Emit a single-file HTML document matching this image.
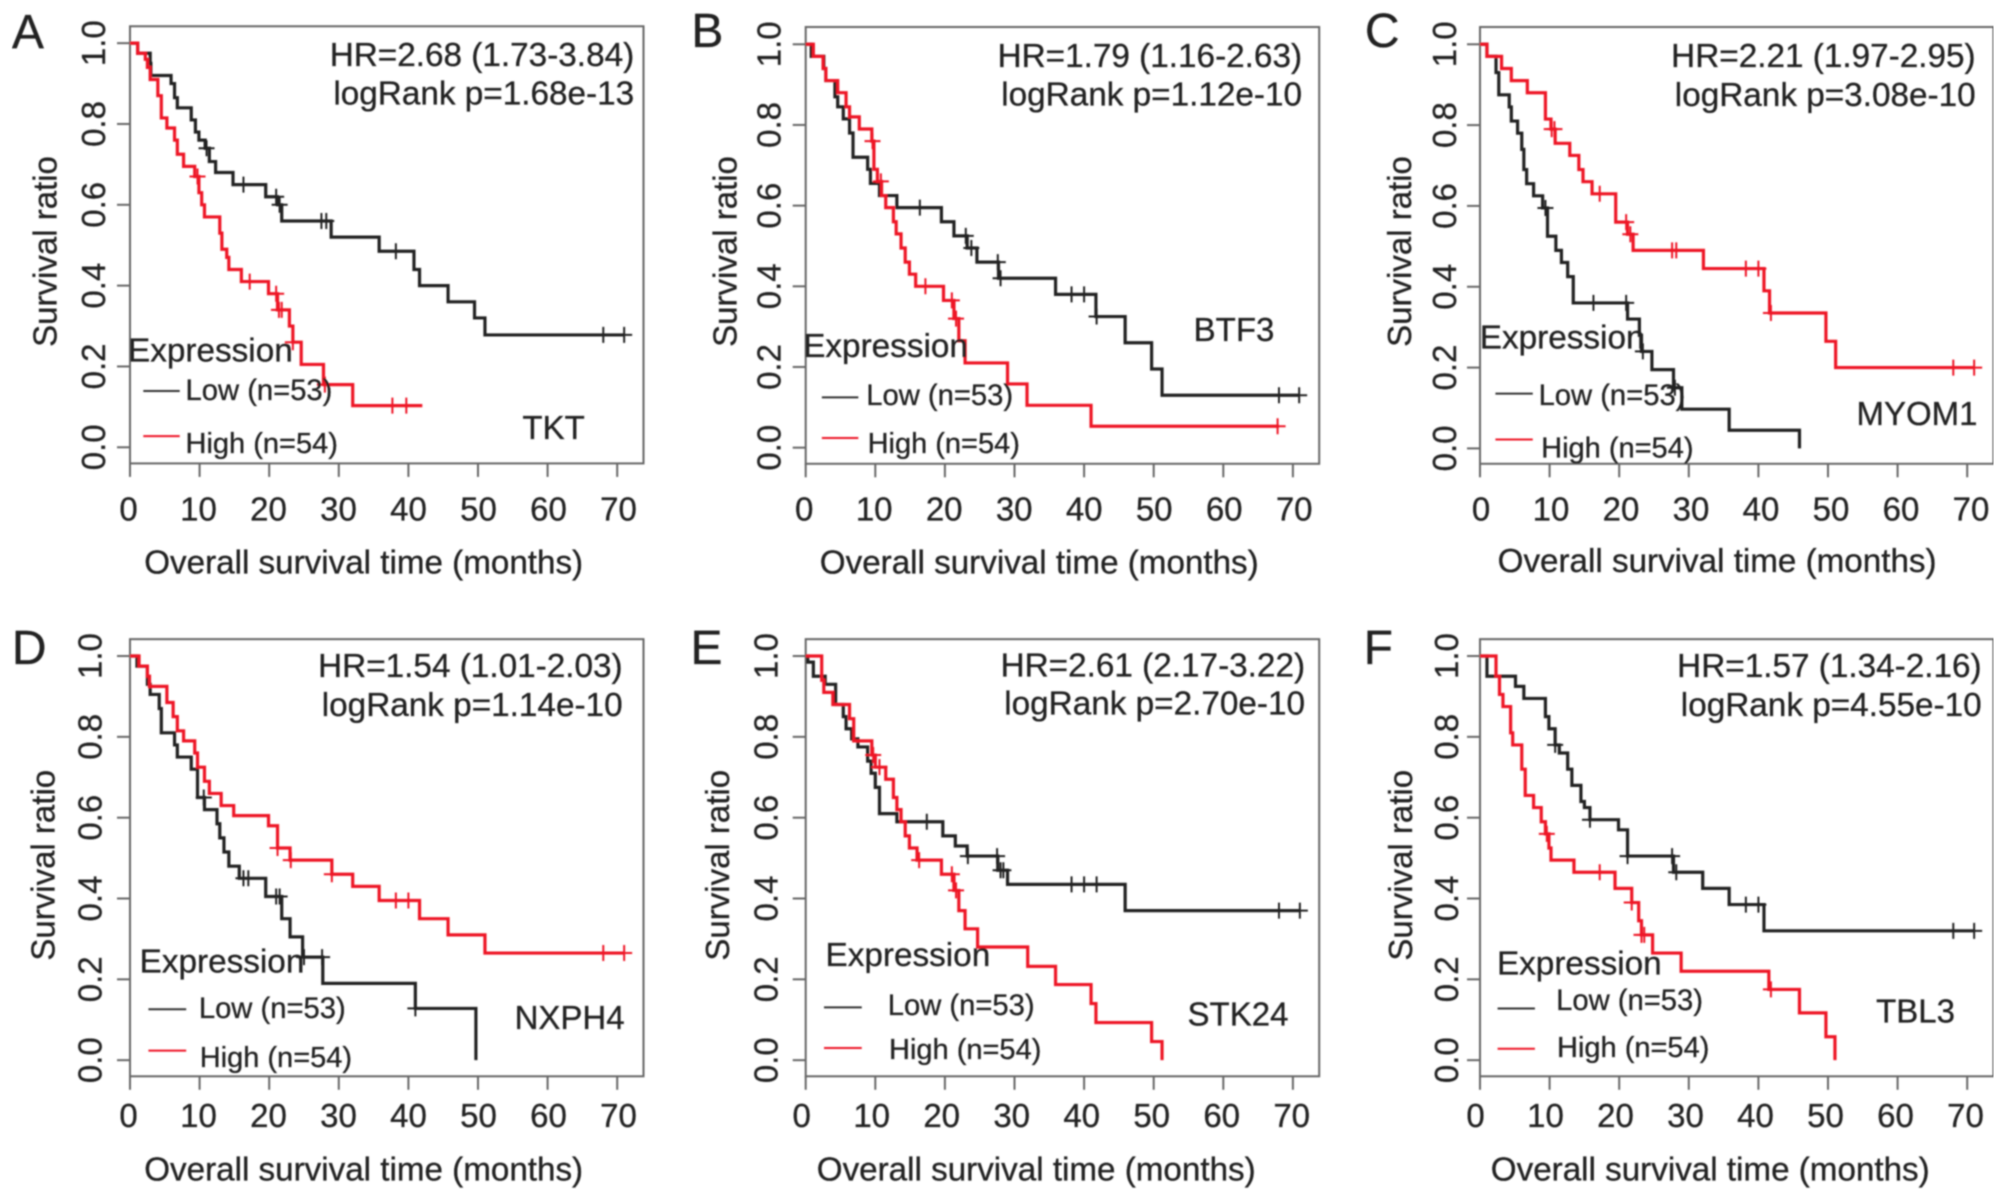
<!DOCTYPE html>
<html lang="en">
<head>
<meta charset="utf-8">
<title>Kaplan-Meier survival panels</title>
<style>
html,body{margin:0;padding:0;background:#fff;width:2008px;height:1200px;overflow:hidden}
svg{display:block}
text{font-family:"Liberation Sans",Arial,sans-serif;fill:#222;stroke:#222;stroke-width:0.3px}
</style>
</head>
<body>
<svg id="figure" xmlns="http://www.w3.org/2000/svg" width="2008" height="1200" viewBox="0 0 2008 1200">
<defs><filter id="soft" x="0" y="0" width="100%" height="100%" filterUnits="objectBoundingBox"><feGaussianBlur stdDeviation="0.75"/></filter></defs>
<rect x="0" y="0" width="2008" height="1200" fill="#fff"/>
<g id="root" filter="url(#soft)"></g>
</svg>
<script>
// Shared axis ticks
const xTicks = [0, 10, 20, 30, 40, 50, 60, 70];
const yTicks = [0, 0.2, 0.4, 0.6, 0.8, 1.0];
const yTickLabels = ["0.0", "0.2", "0.4", "0.6", "0.8", "1.0"];
const xAxisTitle = "Overall survival time (months)";
const yAxisTitle = "Survival ratio";
const lowLabel = "Low (n=53)";
const highLabel = "High (n=54)";

// Panel A - TKT
const aLowT = [1.1,2.9,3.0,5.9,6.4,6.8,8.8,9.4,9.9,10.8,11.4,12.3,14.8,19.5,21.2,21.8,28.9,35.8,40.8,41.6,45.7,49.5,51,71];
const aLowS = [.975,.95,.92,.90,.865,.84,.81,.78,.76,.74,.707,.68,.65,.62,.60,.56,.52,.485,.44,.40,.36,.32,.278,.278];
const aLowCensor = [11,16.3,21,21.5,27.5,28.2,38.2,68,71];
const aHighT = [1.1,2.2,2.5,2.9,4,4.5,5.3,6.4,6.8,7.7,9.3,9.9,10.3,10.7,12.9,13.2,13.9,14.2,16,19.9,21.2,22.9,23.4,24.6,27.8,32,42];
const aHighS = [.975,.96,.94,.91,.87,.815,.79,.76,.725,.695,.67,.63,.60,.57,.53,.49,.47,.44,.41,.38,.34,.30,.26,.205,.155,.103,.103];
const aHighCensor = [9.7,17.2,21,21.4,21.8,23.4,28,37.7,39.7];

// Panel B - BTF3
const bLowT = [.8,2.6,2.9,4.2,4.6,5.4,6.3,6.8,8.9,9.3,10.6,13.1,19.5,21.3,23.2,24.6,27.7,35.9,41.7,45.9,49.7,51.2,71];
const bLowS = [.97,.94,.91,.87,.845,.815,.78,.72,.69,.655,.625,.595,.56,.525,.495,.46,.42,.38,.325,.26,.195,.13,.13];
const bLowCensor = [16.4,23,23.8,27.6,28,38.2,40,41.8,68,70.9];
const bHighT = [1.1,2.5,2.9,4.6,5.8,6.3,7.7,9.5,9.8,10.3,10.9,11.5,12.6,13,13.7,14.3,14.9,15.8,19.8,21.3,22,22.9,29,31.8,41,68];
const bHighS = [.97,.94,.91,.88,.845,.82,.79,.76,.69,.66,.625,.595,.56,.53,.495,.46,.43,.40,.365,.32,.265,.21,.158,.105,.053,.053];
const bHighCensor = [9.6,10.8,17.2,21,21.6,67.8];

// Panel C - MYOM1
const cLowT = [1,2.3,2.7,4.2,4.5,5.4,6,6.3,6.7,7.7,9,9.7,10.9,11.7,12.6,13.4,21.2,22.9,23.2,24.7,27.8,29,35.8,45.9];
const cLowS = [.97,.93,.875,.845,.81,.78,.74,.69,.655,.625,.595,.525,.49,.46,.425,.36,.32,.28,.24,.195,.15,.097,.045,0];
const cLowCensor = [9.4,16.3,21,23.4,28];
const cHighT = [1,3.1,4.5,6.8,9.4,10.2,10.8,12.9,14.2,14.8,16.1,19.5,21.2,22,32.1,40.8,41.6,49.7,51.1,71];
const cHighS = [.97,.94,.91,.88,.815,.79,.755,.725,.69,.66,.63,.56,.53,.49,.445,.39,.335,.265,.2,.2];
const cHighCensor = [10.3,10.7,17.2,21,21.6,27.6,28.2,38.2,40,41.8,68,71];

// Panel D - NXPH4
const dLowT = [1,2.5,2.9,4.2,4.5,6.4,6.8,8.8,9.7,10.7,12.5,12.9,13.5,14.2,15.7,19.5,21.8,23,24.8,27.7,41,49.7];
const dLowS = [.975,.93,.905,.87,.81,.78,.75,.72,.65,.62,.585,.55,.515,.48,.45,.405,.35,.305,.255,.19,.128,0];
const dLowCensor = [10.6,16.3,17,21,21.5,25,27.6,41];
const dHighT = [1.3,2.5,2.8,5.3,6.2,6.8,7.7,9.3,9.7,10.7,11.4,13.1,14.9,19.9,21.2,23,29,32,35.8,41.6,45.7,51,71];
const dHighS = [.975,.95,.925,.885,.85,.815,.79,.76,.725,.69,.66,.63,.605,.58,.525,.495,.46,.43,.395,.35,.31,.265,.265];
const dHighCensor = [21.2,23.1,29,38.2,40,68,71];

// Panel E - STK24
const eLowT = [.3,1.1,2.8,4.3,5.4,5.8,6.6,7.5,8.9,9.4,10,10.6,13.1,19.7,21.5,23.2,27.6,29,45.9,71];
const eLowS = [.985,.95,.93,.88,.85,.82,.795,.775,.74,.71,.675,.61,.59,.555,.53,.505,.47,.435,.37,.37];
const eLowCensor = [17.4,23.3,27.5,28,28.4,38.2,40,41.8,68,71];
const eHighT = [2.3,2.6,3.9,6.3,6.9,9.5,10,11.5,12.6,13.1,13.7,14.3,14.9,16,19.5,21.3,22,22.9,24.7,31.9,35.9,41,41.7,49.7,51.2];
const eHighS = [.94,.91,.88,.845,.79,.755,.725,.695,.65,.62,.59,.555,.525,.495,.46,.42,.37,.325,.28,.232,.187,.14,.093,.046,0];
const eHighCensor = [9.7,10.6,16.3,21,21.6];

// Panel F - TBL3
const fLowT = [1,5.1,6.3,9.4,9.9,10.8,11.4,12.6,13.2,14.5,15,15.8,19.9,21.2,27.8,32,35.8,40.8,71];
const fLowS = [.95,.925,.895,.85,.82,.78,.76,.72,.68,.64,.625,.595,.57,.505,.465,.425,.385,.32,.32];
const fLowCensor = [10.8,15.8,21.2,27.6,28.2,38.2,40,68,71];
const fHighT = [2.3,2.8,3.3,4.4,4.7,6,6.5,7.7,8.8,9.4,9.9,10.2,13.5,19.4,21.8,22.8,23.2,24.8,28.9,41.5,45.9,49.7,51];
const fHighS = [.95,.905,.875,.81,.78,.72,.655,.625,.59,.56,.525,.495,.465,.425,.39,.345,.31,.265,.22,.175,.117,.058,0];
const fHighCensor = [9.6,17.2,21.8,23.2,23.6,41.8];

// Panel text
const panelLetters = ["A", "B", "C", "D", "E", "F"];
const geneNames = ["TKT", "BTF3", "MYOM1", "NXPH4", "STK24", "TBL3"];
const hrTexts = ["HR=2.68 (1.73-3.84)", "HR=1.79 (1.16-2.63)", "HR=2.21 (1.97-2.95)", "HR=1.54 (1.01-2.03)", "HR=2.61 (2.17-3.22)", "HR=1.57 (1.34-2.16)"];
const pTexts = ["logRank p=1.68e-13", "logRank p=1.12e-10", "logRank p=3.08e-10", "logRank p=1.14e-10", "logRank p=2.70e-10", "logRank p=4.55e-10"];
const lowTimes = [aLowT, bLowT, cLowT, dLowT, eLowT, fLowT];
const lowSurv = [aLowS, bLowS, cLowS, dLowS, eLowS, fLowS];
const lowCensors = [aLowCensor, bLowCensor, cLowCensor, dLowCensor, eLowCensor, fLowCensor];
const highTimes = [aHighT, bHighT, cHighT, dHighT, eHighT, fHighT];
const highSurv = [aHighS, bHighS, cHighS, dHighS, eHighS, fHighS];
const highCensors = [aHighCensor, bHighCensor, cHighCensor, dHighCensor, eHighCensor, fHighCensor];

// Layout (separate from data)
const SX = 2.33, SY = 2.655, GY = 2.665, MONTH = 6.96, LABEL_STEP = 7.0, BOX_W = 513.5;
const layouts = [
 {ox:0,oy:0,gy:0,boxLeft:130,top:70,bottom:1235,y1:115,y0:1192,letter:[30,128],hr:[1480,175,278],exp:[303,960],low:[335,420,1038,437,1062],high:[335,420,1158,437,1203],geneCx:553.6,geneY:1165,yTick:245,yTitle:[132,665],xTick:1382,xTickDx:-1.5,xTitle:[852,1522]},
 {ox:670,oy:0,gy:0,boxLeft:805.7,top:72,bottom:1236,y1:118,y0:1193,letter:[52,125],hr:[1475,178,280],exp:[315,948],low:[355,440,1055,462,1075],high:[355,440,1163,465,1203],geneCx:1234,geneY:905,yTick:258,yTitle:[155,665],xTick:1382,xTickDx:-1.5,xTitle:[865,1522]},
 {ox:1338,oy:0,gy:0,boxLeft:1480,top:72,bottom:1236,y1:118,y0:1195,letter:[65,125],hr:[1488,178,282],exp:[335,925],low:[368,455,1045,472,1075],high:[368,455,1167,478,1215],geneCx:1917,geneY:1128,yTick:275,yTitle:[170,665],xTick:1382,xTickDx:1,xTitle:[888,1518]},
 {ox:0,oy:610,gy:611,boxLeft:130,top:75,bottom:1240,y1:120,y0:1197,letter:[30,143],hr:[1453,178,282],exp:[330,963],low:[347,435,1060,468,1083],high:[347,435,1170,470,1213],geneCx:569.6,geneY:1112,yTick:237,yTitle:[127,675],xTick:1372,xTickDx:-1.5,xTitle:[852,1515]},
 {ox:670,oy:610,gy:611,boxLeft:805.7,top:75,bottom:1240,y1:120,y0:1197,letter:[50,143],hr:[1482,176,277],exp:[367,945],low:[360,448,1055,512,1075],high:[360,448,1163,515,1192],geneCx:1238,geneY:1103,yTick:250,yTitle:[137,675],xTick:1372,xTickDx:-4,xTitle:[858,1515]},
 {ox:1338,oy:610,gy:611,boxLeft:1480,top:75,bottom:1240,y1:120,y0:1197,letter:[62,143],hr:[1502,178,282],exp:[375,968],low:[373,460,1058,513,1062],high:[373,460,1165,515,1187],geneCx:1915.5,geneY:1095,yTick:280,yTitle:[172,675],xTick:1372,xTickDx:-4.5,xTitle:[872,1515]}
];

const NS = "http://www.w3.org/2000/svg";
const BLACK = "#222", RED = "#ee1525", BOX = "#666";
function make(tag, attrs, parent) {
  const n = document.createElementNS(NS, tag);
  for (const k in attrs) n.setAttribute(k, attrs[k]);
  parent.appendChild(n);
  return n;
}
function survAt(times, surv, t) {
  let s = 1;
  for (let i = 0; i < times.length; i++) { if (times[i] <= t) s = surv[i]; }
  return s;
}
function drawSeries(parent, times, surv, censors, color, xf, yf, key) {
  let d = "M" + xf(0) + " " + yf(1);
  for (let i = 0; i < times.length; i++) {
    d += "H" + xf(times[i]) + "V" + yf(surv[i]);
  }
  const el = make("path", {d: d, fill: "none", stroke: color, "stroke-width": 3.2, "stroke-linejoin": "miter"}, parent);
  
  
  censors.forEach(function (c) {
    const cx = xf(c), cy = yf(survAt(times, surv, c));
    const m = make("path", {d: "M" + (cx - 8) + " " + cy + "H" + (cx + 8) + "M" + cx + " " + (cy - 8) + "V" + (cy + 8), fill: "none", stroke: color, "stroke-width": 2}, parent);
    
    
  });
}
function label(parent, str, x, y, size, anchor, rot) {
  const t = make("text", {x: x, y: y, "font-size": size, "text-anchor": anchor || "start"}, parent);
  if (rot) t.setAttribute("transform", "rotate(-90 " + x + " " + y + ")");
  t.textContent = str;
  return t;
}
const root = document.getElementById("root");
layouts.forEach(function (L, p) {
  const px = function (v) { return L.ox + v / SX; };
  const ty = function (v) { return L.oy + v / SY; };
  const gy = function (v) { return L.gy + v / GY; };
  const xf = function (t) { return L.boxLeft + t * MONTH; };
  const yf = function (s) { return gy(L.y0) + s * (gy(L.y1) - gy(L.y0)); };
  const id = panelLetters[p].toLowerCase();
  const g = make("g", {}, root);
  
  

  const letter = label(g, panelLetters[p], px(L.letter[0]) - 1, ty(L.letter[1]), 48);
  
  

  const box = make("rect", {x: L.boxLeft, y: gy(L.top), width: BOX_W, height: gy(L.bottom) - gy(L.top), fill: "none", stroke: BOX, "stroke-width": 2}, g);
  
  

  xTicks.forEach(function (v) {
    const tick = make("line", {x1: xf(v), x2: xf(v), y1: gy(L.bottom), y2: gy(L.bottom) + 13.5, stroke: BOX, "stroke-width": 2}, g);
    
    
    const tl = label(g, String(v), L.boxLeft + L.xTickDx + v * LABEL_STEP, ty(L.xTick), 33, "middle");
    
    
  });
  yTicks.forEach(function (v, i) {
    const tick = make("line", {x1: L.boxLeft - 13, x2: L.boxLeft, y1: yf(v), y2: yf(v), stroke: BOX, "stroke-width": 2}, g);
    
    
    const tl = label(g, yTickLabels[i], px(L.yTick), yf(v), 33, "middle", true);
    
    
  });

  const xt = label(g, xAxisTitle, px(L.xTitle[0]) - 2, ty(L.xTitle[1]), 33.2, "middle");
  
  
  const yt = label(g, yAxisTitle, px(L.yTitle[0]), ty(L.yTitle[1]) + 1, 33, "middle", true);
  
  

  drawSeries(g, lowTimes[p], lowSurv[p], lowCensors[p], BLACK, xf, yf, 'low');
  drawSeries(g, highTimes[p], highSurv[p], highCensors[p], RED, xf, yf, 'high');

  const hr = label(g, hrTexts[p], px(L.hr[0]) - 1, ty(L.hr[1]), 33.3, "end");
  
  
  const pv = label(g, pTexts[p], px(L.hr[0]) - 1, ty(L.hr[2]), 33.3, "end");
  
  

  const ex = label(g, "Expression", px(L.exp[0]) - 2, ty(L.exp[1]), 33.3);
  
  

  const ll = make("line", {x1: px(L.low[0]) - 0.5, x2: px(L.low[1]) - 0.5, y1: ty(L.low[2]), y2: ty(L.low[2]), stroke: "#333", "stroke-width": 2}, g);
  
  
  const lt = label(g, lowLabel, px(L.low[3]) - 2, ty(L.low[4]), 29.2);
  
  
  const hl = make("line", {x1: px(L.high[0]) - 0.5, x2: px(L.high[1]) - 0.5, y1: ty(L.high[2]), y2: ty(L.high[2]), stroke: RED, "stroke-width": 2}, g);
  
  
  const ht = label(g, highLabel, px(L.high[3]) - 2, ty(L.high[4]), 29);
  
  

  const gene = label(g, geneNames[p], L.geneCx, ty(L.geneY), 33, "middle");
  
  
});
</script>
</body>
</html>
